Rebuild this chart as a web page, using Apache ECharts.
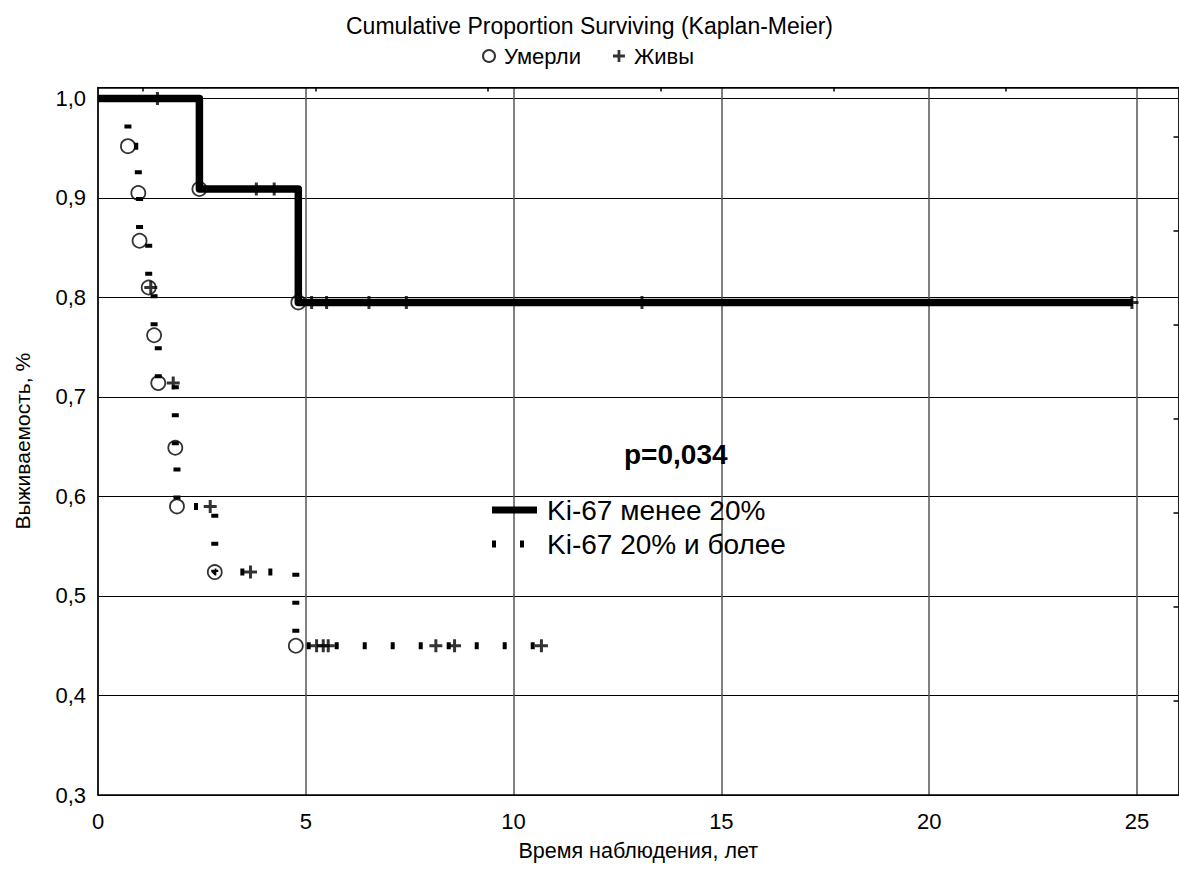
<!DOCTYPE html>
<html>
<head>
<meta charset="utf-8">
<script src="https://cdn.jsdelivr.net/npm/echarts@6/dist/echarts.min.js"></script>
<style>
html,body{margin:0;padding:0;background:#fff;}
#chart{width:1179px;height:877px;}
</style>
</head>
<body>
<div id="chart"></div>
<script>
// ---- data ----
const xTicks = [0, 5, 10, 15, 20, 25];
const yTicks = [0.3, 0.4, 0.5, 0.6, 0.7, 0.8, 0.9, 1.0];
const topTicks = [1.07, 5.23, 9.38, 13.54, 17.70, 21.85];
const rightTicks = [0.3945, 0.489, 0.5835, 0.678, 0.7725, 0.867, 0.9615];

const groupNames = ['Ki-67 менее 20%', 'Ki-67 20% и более'];
const markerNames = ['Умерли', 'Живы'];

// Ki-67 < 20% : step curve
const g1Times = [0, 2.44, 4.82, 24.9];
const g1Surv  = [1.0, 0.909, 0.795, 0.795];
const g1DeathTimes = [2.44, 4.82];
const g1DeathSurv  = [0.909, 0.795];
const g1CensTimes = [1.43, 3.81, 4.24, 5.14, 5.50, 6.52, 7.42, 13.09, 24.88];
const g1CensSurv  = [1.0, 0.909, 0.909, 0.795, 0.795, 0.795, 0.795, 0.795, 0.795];

// Ki-67 >= 20% : step curve
const g2Times = [0, 0.72, 0.97, 1.00, 1.22, 1.35, 1.45, 1.86, 1.90, 2.81, 4.76, 10.67];
const g2Surv  = [1.0, 0.952, 0.905, 0.857, 0.810, 0.762, 0.714, 0.649, 0.590, 0.524, 0.450, 0.450];
const g2DeathTimes = [0.72, 0.97, 1.00, 1.22, 1.35, 1.45, 1.86, 1.90, 2.81, 4.76];
const g2DeathSurv  = [0.952, 0.905, 0.857, 0.810, 0.762, 0.714, 0.649, 0.590, 0.524, 0.450];
const g2CensTimes = [1.27, 1.81, 2.70, 3.67, 5.26, 5.42, 5.54, 8.13, 8.58, 10.67];
const g2CensSurv  = [0.810, 0.714, 0.590, 0.524, 0.450, 0.450, 0.450, 0.450, 0.450, 0.450];

const pText = 'p=0,034';

// ---- build ----
const zip = (a, b) => a.map((v, i) => [v, b[i]]);
const FONT = '"Liberation Sans", Arial, sans-serif';
const PLUS = 'path://M5,0 H8 V5 H13 V8 H8 V13 H5 V8 H0 V5 H5 Z';
const SOLID_ICON = 'path://M0,0 H45 V7 H0 Z';
const DOT_ICON = 'path://M0,0 H4 V7 H0 Z M28,0 H32 V7 H28 Z M44.95,3.45 H45 V3.5 H44.95 Z';
const fmt = v => (Math.round(v * 10) / 10).toFixed(1).replace('.', ',');

const chart = echarts.init(document.getElementById('chart'), null, {renderer: 'svg'});

const circleStyle = {color: 'rgba(0,0,0,0)', borderColor: '#000', borderWidth: 1.8};

chart.setOption({
  animation: false,
  backgroundColor: '#fff',
  title: {
    text: 'Cumulative Proportion Surviving (Kaplan-Meier)',
    left: 'center', top: 9,
    textStyle: {fontFamily: FONT, fontSize: 23, fontWeight: 'normal', color: '#000'}
  },
  legend: [
    {
      data: markerNames,
      top: 40, left: 477,
      itemGap: 32, itemWidth: 12, itemHeight: 12,
      textStyle: {fontFamily: FONT, fontSize: 22, color: '#000', padding: [0, 0, 0, 4]},
      selectedMode: false
    },
    {
      data: [{name: groupNames[0], icon: SOLID_ICON}, {name: groupNames[1], icon: DOT_ICON}],
      orient: 'vertical',
      left: 487, top: 491,
      itemGap: 6, itemWidth: 45, itemHeight: 7,
      textStyle: {fontFamily: FONT, fontSize: 28, color: '#000', padding: [0, 0, 0, 5]},
      selectedMode: false
    }
  ],
  grid: {left: 98, right: 0.5, top: 87.5, bottom: 82, containLabel: false},
  xAxis: [
    {
      type: 'value', min: 0, max: 26, interval: 5,
      name: 'Время наблюдения, лет', nameLocation: 'middle', nameGap: 45,
      nameTextStyle: {fontFamily: FONT, fontSize: 21.5, color: '#000'},
      axisLine: {show: true, onZero: false, lineStyle: {color: '#000', width: 1.5}},
      axisTick: {show: false},
      axisLabel: {fontFamily: FONT, fontSize: 22, color: '#000', margin: 15, showMaxLabel: false,
        formatter: v => xTicks.includes(v) ? String(v) : ''},
      splitLine: {show: true, lineStyle: {color: '#555', width: 1.5}}
    },
    {
      type: 'value', min: 0, max: 26, position: 'top',
      axisLine: {show: true, onZero: false, lineStyle: {color: '#000', width: 1.5}},
      axisTick: {show: true, inside: true, length: 4, customValues: topTicks, lineStyle: {color: '#000', width: 1.5}},
      axisLabel: {show: false},
      splitLine: {show: false}
    }
  ],
  yAxis: [
    {
      type: 'value', min: 0.3, max: 1.011, interval: 0.1,
      name: 'Выживаемость, %', nameLocation: 'middle', nameGap: 65, nameRotate: 90,
      nameTextStyle: {fontFamily: FONT, fontSize: 21, color: '#000'},
      axisLine: {show: true, onZero: false, lineStyle: {color: '#000', width: 1.5}},
      axisTick: {show: false},
      axisLabel: {fontFamily: FONT, fontSize: 22, color: '#000', margin: 12, showMaxLabel: false,
        formatter: v => yTicks.some(t => Math.abs(t - v) < 1e-6) ? fmt(v) : ''},
      splitLine: {show: true, lineStyle: {color: '#000', width: 1}}
    },
    {
      type: 'value', min: 0.3, max: 1.011, position: 'right',
      axisLine: {show: true, onZero: false, lineStyle: {color: '#000', width: 1.5}},
      axisTick: {show: true, inside: true, length: 5, customValues: rightTicks, lineStyle: {color: '#000', width: 1.5}},
      axisLabel: {show: false},
      splitLine: {show: false}
    }
  ],
  graphic: [{
    type: 'text', left: 624, top: 440, z: 100,
    style: {text: pText, fontFamily: FONT, fontSize: 28, fontWeight: 'bold', fill: '#000'}
  }],
  series: [
    {
      name: groupNames[0], type: 'line', step: 'end', symbol: 'none',
      data: zip(g1Times, g1Surv),
      lineStyle: {color: '#000', width: 7.5, join: 'round', cap: 'butt'},
      itemStyle: {color: '#000'}, z: 3
    },
    {
      name: groupNames[1], type: 'line', step: 'end', symbol: 'none',
      data: zip(g2Times, g2Surv),
      lineStyle: {color: '#000', width: 7, type: [4, 24], cap: 'butt'},
      itemStyle: {color: '#000'}, z: 3
    },
    {
      name: markerNames[0], type: 'scatter', symbol: 'circle', symbolSize: 14,
      data: zip(g1DeathTimes, g1DeathSurv), itemStyle: circleStyle, z: 5
    },
    {
      name: markerNames[0], type: 'scatter', symbol: 'circle', symbolSize: 14,
      data: zip(g2DeathTimes, g2DeathSurv), itemStyle: circleStyle, z: 5
    },
    {
      name: markerNames[1], type: 'scatter', symbol: PLUS, symbolSize: 13,
      data: zip(g1CensTimes, g1CensSurv), itemStyle: {color: '#000'}, z: 4
    },
    {
      name: markerNames[1], type: 'scatter', symbol: PLUS, symbolSize: 13,
      data: zip(g2CensTimes, g2CensSurv), itemStyle: {color: '#000'}, z: 4
    }
  ]
});
</script>
</body>
</html>
